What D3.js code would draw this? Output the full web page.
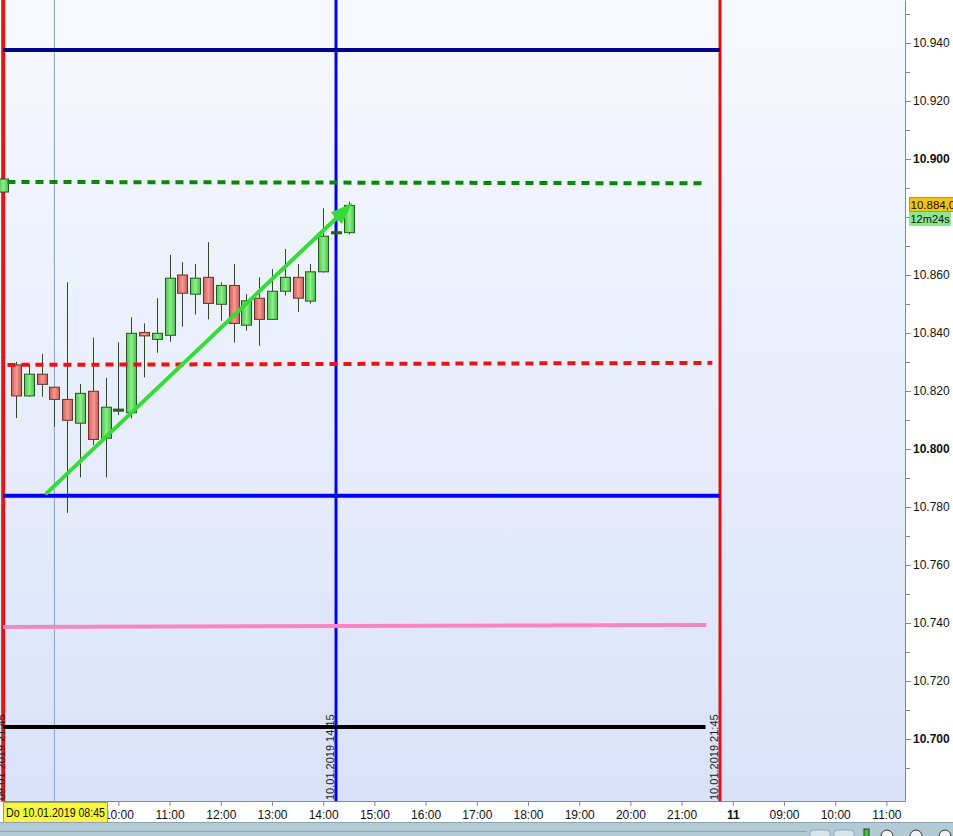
<!DOCTYPE html>
<html>
<head>
<meta charset="utf-8">
<script src="https://cdn.jsdelivr.net/npm/d3@7"></script>
<style>
body { margin: 0; background: #fff; }
svg { display: block; font-family: "Liberation Sans", Arial, sans-serif; }
</style>
</head>
<body>
<script>
// 15 min candles, 10.01.2019 (plus last bar of 09.01)
var candleTimes = ["09.01 21:45", "10.01 08:00", "10.01 08:15", "10.01 08:30", "10.01 08:45",
	"10.01 09:00", "10.01 09:15", "10.01 09:30", "10.01 09:45", "10.01 10:00", "10.01 10:15",
	"10.01 10:30", "10.01 10:45", "10.01 11:00", "10.01 11:15", "10.01 11:30", "10.01 11:45",
	"10.01 12:00", "10.01 12:15", "10.01 12:30", "10.01 12:45", "10.01 13:00", "10.01 13:15",
	"10.01 13:30", "10.01 13:45", "10.01 14:00", "10.01 14:15", "10.01 14:30"];
var opens  = [10.8886, 10.8290, 10.8183, 10.8258, 10.8213, 10.8171, 10.8089, 10.8199, 10.8037, 10.8133,
	10.8125, 10.8402, 10.8378, 10.8392, 10.8600, 10.8534, 10.8592, 10.8499, 10.8564, 10.8427,
	10.8520, 10.8447, 10.8544, 10.8592, 10.8510, 10.8611, 10.8744, 10.8746];
var highs  = [10.8935, 10.8300, 10.8293, 10.8328, 10.8215, 10.8575, 10.8224, 10.8384, 10.8245, 10.8368,
	10.8454, 10.8433, 10.8520, 10.8669, 10.8644, 10.8638, 10.8713, 10.8575, 10.8638, 10.8534,
	10.8592, 10.8620, 10.8690, 10.8638, 10.8638, 10.8830, 10.8752, 10.8853];
var lows   = [10.8880, 10.8107, 10.8180, 10.8180, 10.8077, 10.7780, 10.7902, 10.8014, 10.7902, 10.8117,
	10.8106, 10.8247, 10.8332, 10.8370, 10.8422, 10.8464, 10.8447, 10.8442, 10.8367, 10.8408,
	10.8356, 10.8445, 10.8529, 10.8473, 10.8502, 10.8608, 10.8740, 10.8740];
var closes = [10.8931, 10.8183, 10.8258, 10.8223, 10.8171, 10.8099, 10.8192, 10.8033, 10.8144, 10.8135,
	10.8399, 10.8390, 10.8399, 10.8589, 10.8537, 10.8589, 10.8502, 10.8564, 10.8433, 10.8511,
	10.8447, 10.8544, 10.8592, 10.8520, 10.8611, 10.8734, 10.8747, 10.8840];

// drawn horizontal levels: from time, to time, price at start, price at end
var levelNames  = ["navy", "greenDash", "redDash", "blue", "pink", "black"];
var levelFrom   = ["09.01 21:45", "09.01 21:50", "09.01 21:50", "09.01 21:45", "09.01 21:45", "09.01 21:45"];
var levelTo     = ["10.01 21:45", "10.01 21:29", "10.01 21:36", "10.01 21:45", "10.01 21:29", "10.01 21:28"];
var levelStart  = [10.9376, 10.8921, 10.8290, 10.7839, 10.7386, 10.7041];
var levelEnd    = [10.9376, 10.8916, 10.8297, 10.7839, 10.7393, 10.7041];

// vertical markers
var vlineNames = ["redLeft", "cross", "blueV", "redRight"];
var vlineTimes = ["09.01 21:45", "10.01 08:45", "10.01 14:15", "10.01 21:45"];
var vlineLabels = ["09.01.2019 21:45", "", "10.01.2019 14:15", "10.01.2019 21:45"];

// trend arrow
var arrowTimes  = ["10.01 08:36", "10.01 14:34"];
var arrowPrices = [10.7848, 10.8848];

// axes (10.880 label sits under the last price box, 08:00/09:00 under the date box)
var priceTicks = [10.700, 10.720, 10.740, 10.760, 10.780, 10.800, 10.820, 10.840, 10.860, 10.900, 10.920, 10.940];
var priceMinor = [10.690, 10.710, 10.730, 10.750, 10.770, 10.790, 10.810, 10.830, 10.850, 10.870, 10.880, 10.890, 10.910, 10.930, 10.950];
var timeTickLabels = ["", "", "10:00", "11:00", "12:00", "13:00", "14:00", "15:00", "16:00",
	"17:00", "18:00", "19:00", "20:00", "21:00", "11", "09:00", "10:00", "11:00"];
var lastPrice = "10.884,0";
var lastPriceValue = 10.8840;
var countdown = "12m24s";
var crossLabel = "Do 10.01.2019 08:45";

var width  = 953;
var height = 836;
var plotW  = 905;
var plotH  = 801;

// session hours: 08:00 of 10.01 is 0, session runs 08:00 - 22:00
function toHours(s) {
	var day = s.slice(0, 2);
	var hh = +s.slice(6, 8);
	var mm = +s.slice(9, 11);
	var h = hh - 8 + mm / 60;
	if (day == "09") h = h - 14;
	return h;
}

var xScale = d3.scaleLinear()
	.domain([-0.3125, 17.363])
	.range([0, plotW]);

var yScale = d3.scaleLinear()
	.domain([10.67862, 10.95483])
	.range([plotH, 0]);

var svg = d3.select('body').append('svg')
	.attr('width', width)
	.attr('height', height);

var defs = svg.append('defs');
var bg = defs.append('linearGradient').attr('id', 'bg')
	.attr('x1', 0).attr('y1', 0).attr('x2', 0).attr('y2', 1);
bg.append('stop').attr('offset', '0%').attr('stop-color', '#f7f9fe');
bg.append('stop').attr('offset', '100%').attr('stop-color', '#d9e2f9');

var gUp = defs.append('linearGradient').attr('id', 'up');
gUp.append('stop').attr('offset', '0%').attr('stop-color', '#4cc84c');
gUp.append('stop').attr('offset', '50%').attr('stop-color', '#8cee8c');
gUp.append('stop').attr('offset', '100%').attr('stop-color', '#45c245');
var gDn = defs.append('linearGradient').attr('id', 'dn');
gDn.append('stop').attr('offset', '0%').attr('stop-color', '#d85c5c');
gDn.append('stop').attr('offset', '50%').attr('stop-color', '#f09a90');
gDn.append('stop').attr('offset', '100%').attr('stop-color', '#d45858');

defs.append('clipPath').attr('id', 'clip')
	.append('rect').attr('width', plotW).attr('height', plotH);

svg.append('rect')
	.attr('width', width).attr('height', height)
	.style('fill', '#fff');

svg.append('rect')
	.attr('width', plotW).attr('height', plotH)
	.style('fill', 'url(#bg)');

var plot = svg.append('g').attr('clip-path', 'url(#clip)');

// vertical lines
var vStyle = {
	redLeft:  {color: '#ee1111', w: 4},
	cross:    {color: '#7aa2d4', w: 1},
	blueV:    {color: '#0000ee', w: 3},
	redRight: {color: '#e01010', w: 3}
};
vlineTimes.forEach(function(t, i) {
	var st = vStyle[vlineNames[i]];
	plot.append('line')
		.attr('x1', xScale(toHours(t))).attr('x2', xScale(toHours(t)))
		.attr('y1', 0).attr('y2', plotH)
		.style('stroke', st.color)
		.style('stroke-width', st.w);
});

// candles
var candles = candleTimes.map(function(t, i) {
	return {h: toHours(t), o: opens[i], hi: highs[i], lo: lows[i], c: closes[i]};
});
var bodyW = 10;

plot.selectAll('line.wick')
	.data(candles)
	.enter().append('line')
		.classed('wick', true)
		.attr('x1', function(d) { return Math.round(xScale(d.h)) + 0.5; })
		.attr('x2', function(d) { return Math.round(xScale(d.h)) + 0.5; })
		.attr('y1', function(d) { return yScale(d.hi); })
		.attr('y2', function(d) { return yScale(d.lo); })
		.style('stroke', '#2f4a22')
		.style('stroke-width', 1);

plot.selectAll('rect.body')
	.data(candles)
	.enter().append('rect')
		.classed('body', true)
		.attr('x', function(d) { return Math.round(xScale(d.h)) - bodyW / 2 + 0.5; })
		.attr('y', function(d) {
			var t = yScale(Math.max(d.o, d.c));
			var b = yScale(Math.min(d.o, d.c));
			return b - t < 2 ? (t + b) / 2 - 1 : t;
		})
		.attr('width', bodyW)
		.attr('height', function(d) {
			var hgt = yScale(Math.min(d.o, d.c)) - yScale(Math.max(d.o, d.c));
			return hgt < 2 ? 2 : hgt;
		})
		.style('fill', function(d) {
			if (Math.abs(yScale(d.o) - yScale(d.c)) < 2) return '#2f5a22';
			return d.c >= d.o ? 'url(#up)' : 'url(#dn)';
		})
		.style('stroke', function(d) { return d.c >= d.o ? '#245a20' : '#6a3526'; })
		.style('stroke-width', 1);

// horizontal levels
var lStyle = {
	navy:      {color: '#00008c', w: 4, dash: null},
	greenDash: {color: '#008a00', w: 4, dash: '8,6'},
	redDash:   {color: '#ee1111', w: 4, dash: '8,6'},
	blue:      {color: '#0000ee', w: 4, dash: null},
	pink:      {color: '#f786c0', w: 4, dash: null},
	black:     {color: '#000000', w: 4, dash: null}
};
levelNames.forEach(function(n, i) {
	var st = lStyle[n];
	plot.append('line')
		.attr('x1', xScale(toHours(levelFrom[i])))
		.attr('x2', xScale(toHours(levelTo[i])))
		.attr('y1', yScale(levelStart[i]))
		.attr('y2', yScale(levelEnd[i]))
		.style('stroke', st.color)
		.style('stroke-width', st.w)
		.style('stroke-dasharray', st.dash);
});

// arrow
var ax1 = xScale(toHours(arrowTimes[0])), ay1 = yScale(arrowPrices[0]);
var ax2 = xScale(toHours(arrowTimes[1])), ay2 = yScale(arrowPrices[1]);
var ang = Math.atan2(ay2 - ay1, ax2 - ax1);
var headL = 22, headW = 8;
var bx = ax2 - headL * Math.cos(ang), by = ay2 - headL * Math.sin(ang);
plot.append('line')
	.attr('x1', ax1).attr('y1', ay1)
	.attr('x2', bx + 4 * Math.cos(ang)).attr('y2', by + 4 * Math.sin(ang))
	.style('stroke', '#35dc35')
	.style('stroke-width', 4)
	.style('stroke-linecap', 'round');
plot.append('path')
	.attr('d', 'M' + ax2 + ',' + ay2 +
		'L' + (bx + headW * Math.sin(ang)) + ',' + (by - headW * Math.cos(ang)) +
		'L' + (bx - headW * Math.sin(ang)) + ',' + (by + headW * Math.cos(ang)) + 'Z')
	.style('fill', '#35dc35');

// rotated labels of the vertical lines
vlineTimes.forEach(function(t, i) {
	if (!vlineLabels[i]) return;
	var xx = xScale(toHours(t)) - 2;
	if (i == 0) xx = xx + 4;
	plot.append('text')
		.attr('transform', 'translate(' + xx + ',' + (plotH - 1) + ') rotate(-90)')
		.style('font-size', '11px')
		.style('fill', '#222')
		.text(vlineLabels[i]);
});

// y axis
var yAxis = svg.append('g')
	.attr('transform', 'translate(' + plotW + ',0)')
	.call(d3.axisRight(yScale)
		.tickValues(priceTicks)
		.tickSize(6)
		.tickSizeOuter(0)
		.tickPadding(2)
		.tickFormat(d3.format('.3f')));
yAxis.select('.domain').style('stroke', '#7d8a96');
yAxis.selectAll('.tick line').style('stroke', '#7d8a96');
yAxis.selectAll('.tick text')
	.style('font-size', '12px')
	.style('font-family', '"Liberation Sans", Arial, sans-serif')
	.style('fill', '#111')
	.style('font-weight', function(d) { return Math.abs(d * 10 - Math.round(d * 10)) < 1e-6 ? 'bold' : 'normal'; });

svg.append('g')
	.attr('transform', 'translate(' + plotW + ',0)')
	.selectAll('line')
	.data(priceMinor)
	.enter().append('line')
		.attr('x1', 0).attr('x2', 5)
		.attr('y1', function(d) { return Math.round(yScale(d)) + 0.5; })
		.attr('y2', function(d) { return Math.round(yScale(d)) + 0.5; })
		.style('stroke', '#7d8a96');

// x axis
var xAxis = svg.append('g')
	.attr('transform', 'translate(0,' + plotH + ')')
	.call(d3.axisBottom(xScale)
		.tickValues(d3.range(timeTickLabels.length))
		.tickSize(5)
		.tickSizeOuter(0)
		.tickPadding(4)
		.tickFormat(function(d) { return timeTickLabels[d]; }));
xAxis.select('.domain').style('stroke', '#7d8a96');
xAxis.selectAll('.tick line').style('stroke', '#7d8a96');
xAxis.selectAll('.tick text')
	.style('font-size', '12px')
	.style('font-family', '"Liberation Sans", Arial, sans-serif')
	.style('fill', '#111')
	.style('font-weight', function(d) { return timeTickLabels[d].length < 3 ? 'bold' : 'normal'; });

// last price + countdown
var lpY = yScale(lastPriceValue);
svg.append('rect')
	.attr('x', 909.5).attr('y', Math.round(lpY) - 7.5)
	.attr('width', 46).attr('height', 14)
	.style('fill', '#f6c21e').style('stroke', '#c79410');
svg.append('text')
	.attr('x', 910.5).attr('y', Math.round(lpY) + 4)
	.style('font-size', '11.5px').style('fill', '#111')
	.text(lastPrice);
svg.append('rect')
	.attr('x', 909).attr('y', Math.round(lpY) + 7)
	.attr('width', 42).attr('height', 14)
	.style('fill', '#90e396');
svg.append('text')
	.attr('x', 910.5).attr('y', Math.round(lpY) + 18)
	.style('font-size', '11px').style('fill', '#111')
	.text(countdown);

// crosshair date label
svg.append('rect')
	.attr('x', 3.5).attr('y', 802.5)
	.attr('width', 104).attr('height', 20)
	.style('fill', '#f8f83c').style('stroke', '#a0a060');
svg.append('text')
	.attr('x', 6).attr('y', 817)
	.attr('textLength', 99)
	.attr('lengthAdjust', 'spacingAndGlyphs')
	.style('font-size', '12px').style('fill', '#111')
	.text(crossLabel);

// status bar
svg.append('rect')
	.attr('x', 0).attr('y', 822)
	.attr('width', width).attr('height', 14)
	.style('fill', '#b3cbd6');
svg.append('line')
	.attr('x1', 0).attr('x2', width).attr('y1', 822.5).attr('y2', 822.5)
	.style('stroke', '#8aa4b0');
svg.append('line')
	.attr('x1', 0).attr('x2', 807).attr('y1', 831.5).attr('y2', 831.5)
	.style('stroke', '#8ea6b2');
[810, 834].forEach(function(bx2) {
	svg.append('rect')
		.attr('x', bx2).attr('y', 830).attr('width', 20).attr('height', 10).attr('rx', 3)
		.style('fill', '#d8e6ec').style('stroke', '#8ea6b2');
});
svg.append('rect').attr('x', 864).attr('y', 829).attr('width', 5).attr('height', 8)
	.style('fill', '#3cc83c').style('stroke', '#333');
[887, 916, 945].forEach(function(cx) {
	svg.append('circle').attr('cx', cx).attr('cy', 836).attr('r', 6)
		.style('fill', '#eef3f6').style('stroke', '#333');
});
</script>
</body>
</html>
